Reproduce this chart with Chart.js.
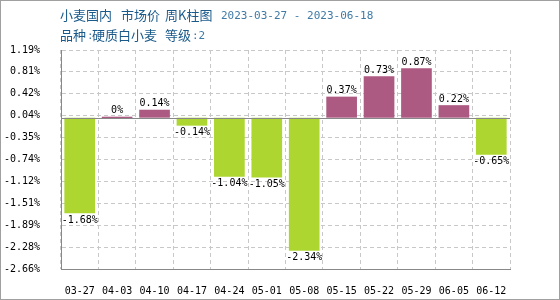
<!DOCTYPE html>
<html>
<head>
<meta charset="utf-8">
<script src="https://cdn.jsdelivr.net/npm/chart.js@4"></script>
<style>
  html, body { margin: 0; padding: 0; background: #fff; }
  #wrap { position: relative; width: 558px; height: 298px; border: 1px solid #a0a0a0; }
  #grafico { position: absolute; left: -1px; top: -1px; }
  .t { position: absolute; white-space: nowrap; font: 13px "Noto Sans CJK SC", sans-serif; color: #1a5a8a; line-height: 14px; }
  .n { font: 11px "DejaVu Sans Mono", monospace; color: #3f7aa6; }
</style>
</head>
<body>
<div id="wrap">
  <canvas id="grafico" width="560" height="300"></canvas>
  <span class="t" style="left:59px; top:7px">小麦国内</span>
  <span class="t" style="left:120px; top:7px">市场价</span>
  <span class="t" style="left:164px; top:7px">周K柱图</span>
  <span class="t n" style="left:220px; top:8px">2023-03-27 - 2023-06-18</span>
  <span class="t" style="left:59px; top:27px">品种</span>
  <span class="t n" style="left:86px; top:28px">:</span>
  <span class="t" style="left:91px; top:27px">硬质白小麦</span>
  <span class="t" style="left:164px; top:27px">等级</span>
  <span class="t n" style="left:191px; top:28px">:2</span>
</div>
<script>
// dados
const semanas = ['03-27', '04-03', '04-10', '04-17', '04-24', '05-01', '05-08', '05-15', '05-22', '05-29', '06-05', '06-12'];
const variacao = [-1.68, 0, 0.14, -0.14, -1.04, -1.05, -2.34, 0.37, 0.73, 0.87, 0.22, -0.65];
const ticksY = [1.19, 0.81, 0.42, 0.04, -0.35, -0.74, -1.12, -1.51, -1.89, -2.28, -2.66];

const corAlta = '#ad5a82';
const corBaixa = '#add631';
const fonteMono = '"DejaVu Sans Mono", "Liberation Mono", monospace';

function fmt(v) {
    return v === 0 ? '0%' : v.toFixed(2) + '%';
}

// linha do zero e rótulos das barras
const extras = {
    id: 'extras',
    afterDatasetsDraw(chart) {
        const ctx = chart.ctx;
        const y = chart.scales.y;
        const area = chart.chartArea;

        const y0 = Math.round(y.getPixelForValue(0)) + 0.5;
        ctx.save();
        ctx.setLineDash([]);
        ctx.strokeStyle = '#888888';
        ctx.lineWidth = 1;
        ctx.beginPath();
        ctx.moveTo(area.left, y0);
        ctx.lineTo(area.right, y0);
        ctx.stroke();

        ctx.font = '10px ' + fonteMono;
        ctx.fillStyle = '#000';
        ctx.textAlign = 'center';
        const meta = chart.getDatasetMeta(0);
        meta.data.forEach((bar, i) => {
            const v = variacao[i];
            if (v >= 0) {
                ctx.textBaseline = 'bottom';
                ctx.fillText(fmt(v), bar.x, Math.min(bar.y, bar.base) - 1);
            } else {
                ctx.textBaseline = 'top';
                ctx.fillText(fmt(v), bar.x, Math.max(bar.y, bar.base) + 2);
            }
        });
        ctx.restore();
    }
};

new Chart(document.getElementById('grafico'), {
    type: 'bar',
    data: {
        labels: semanas,
        datasets: [{
            data: variacao,
            backgroundColor: variacao.map(v => v >= 0 ? corAlta : corBaixa),
            borderWidth: 0,
            barPercentage: 0.82,
            categoryPercentage: 1,
            minBarLength: 2
        }]
    },
    options: {
        responsive: false,
        animation: false,
        layout: { padding: { left: 0, right: 50, top: 50, bottom: 0 } },
        plugins: {
            legend: { display: false },
            tooltip: { enabled: false }
        },
        scales: {
            x: {
                grid: {
                    offset: true,
                    color: '#c8c8c8',
                    drawTicks: false
                },
                border: { color: '#888888', dash: [4, 3] },
                ticks: {
                    color: '#000',
                    font: { family: fonteMono, size: 10 },
                    padding: 16,
                    maxRotation: 0,
                    autoSkip: false
                },
                afterFit(scale) { scale.height = 31; }
            },
            y: {
                min: ticksY[ticksY.length - 1],
                max: ticksY[0],
                afterBuildTicks(scale) {
                    scale.ticks = ticksY.slice().reverse().map(v => ({ value: v }));
                },
                grid: {
                    color: '#c8c8c8',
                    drawTicks: false
                },
                border: { color: '#888888', dash: [4, 3] },
                ticks: {
                    color: '#000',
                    font: { family: fonteMono, size: 10 },
                    padding: 21,
                    callback: v => v.toFixed(2) + '%'
                },
                afterFit(scale) { scale.width = 61; }
            }
        }
    },
    plugins: [extras]
});
</script>
</body>
</html>
